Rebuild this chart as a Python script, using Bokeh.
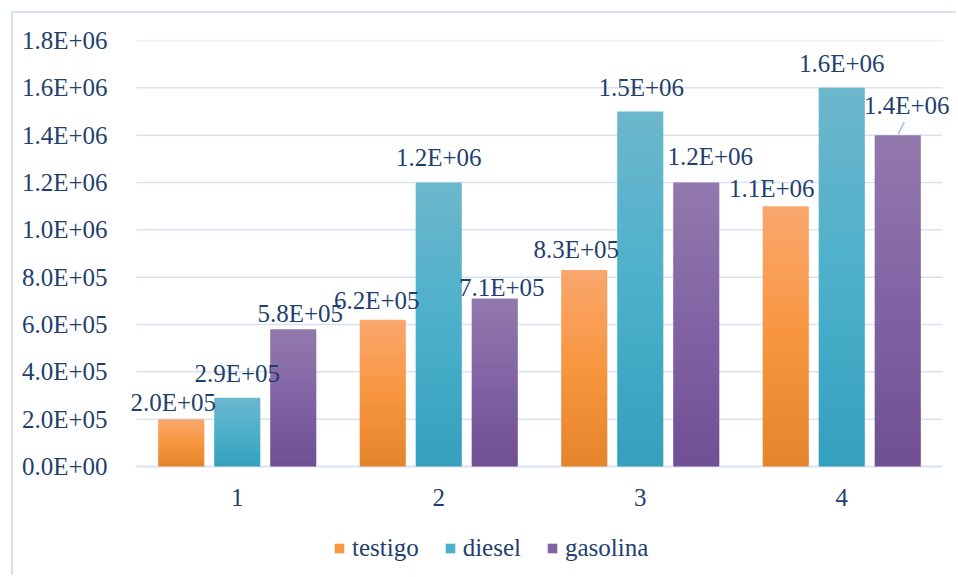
from bokeh.plotting import figure
from bokeh.models import Range1d, FixedTicker, Legend, LegendItem, ColumnDataSource
from bokeh.core.properties import value
from bokeh.embed import file_html
from bokeh.resources import INLINE

# ---- data -------------------------------------------------------------
groups = [1, 2, 3, 4]
group_labels = ["1", "2", "3", "4"]
series_names = ["testigo", "diesel", "gasolina"]
testigo = [2.0e5, 6.2e5, 8.3e5, 1.1e6]
diesel = [2.9e5, 1.2e6, 1.5e6, 1.6e6]
gasolina = [5.8e5, 7.1e5, 1.2e6, 1.4e6]
y_ticks = [0, 2e5, 4e5, 6e5, 8e5, 1.0e6, 1.2e6, 1.4e6, 1.6e6, 1.8e6]

# ---- styling ----------------------------------------------------------
FONT = "Liberation Serif"
FSIZE = "25px"
TEXT = "#1F3F6E"
GRID = "#D9E2F3"
BORDER = "#D6E0F1"
# bottom / middle / top colours of each bar gradient
gradients = [
    ("#E5842B", "#F8963F", "#F9A76E"),
    ("#34A0BD", "#4CB0CB", "#6CB7CC"),
    ("#704F93", "#8163A4", "#9279AC"),
]

# label nudges in screen px: (dx, rise above bar top to label centre)
label_nudge = [
    [(-8, 17), (-6, 19), (-8, 21), (-14, 18)],
    [(0, 24), (0, 25), (1, 24), (0, 24)],
    [(7, 16), (7, 11), (14, 26), (9, 30)],
]

# ---- page geometry (px) ----------------------------------------------
PAGE_W, PAGE_H = 958, 577
EDGE = 11            # chart border offset from page corner
BW = 2               # chart border width
OX = OY = EDGE + BW  # canvas origin on the page
W, H = PAGE_W - OX, PAGE_H - OY

frame_l, frame_r = 120, 958     # drawable frame (page px)
frame_t, frame_b = 40, 577
plot_l, plot_r = 136, 942       # category extent (page px)
base_y = 466                    # value-axis zero line (page px)
cat_label_gap = 31              # zero line to category label centre
legend_left, legend_mid = 333, 548

x_lo, x_hi = 0.5, 4.5
y_top = 1.8e6
px_x = (plot_r - plot_l) / (x_hi - x_lo)
px_y = (base_y - frame_t) / y_top
xr = Range1d(x_lo - (plot_l - frame_l) / px_x, x_hi + (frame_r - plot_r) / px_x)
yr = Range1d(-(frame_b - base_y) / px_y, y_top)

bar_step = 56 / px_x
bar_w = 46 / px_x

p = figure(width=W, height=H, output_backend="svg", toolbar_location=None,
           x_range=xr, y_range=yr, x_axis_type=None,
           min_border_left=frame_l - OX, min_border_right=PAGE_W - frame_r,
           min_border_top=frame_t - OY, min_border_bottom=PAGE_H - frame_b)
# shift the chart box in from the page corner; the shadow draws its
# thin left/top border without touching the layout
p.styles = {"position": "relative", "left": f"{OX}px", "top": f"{OY}px",
            "box-shadow": f"-{BW}px -{BW}px 0 0 {BORDER}"}
p.outline_line_color = None
p.background_fill_color = "white"
p.border_fill_color = "white"

# value axis
p.yaxis.ticker = FixedTicker(ticks=y_ticks)
p.yaxis.major_label_overrides = {t: f"{t:.1E}" for t in y_ticks}
p.yaxis.major_tick_line_color = None
p.yaxis.minor_tick_line_color = None
p.yaxis.axis_line_color = None
p.yaxis.major_label_text_font = FONT
p.yaxis.major_label_text_font_size = FSIZE
p.yaxis.major_label_text_color = TEXT
p.yaxis.major_label_standoff = 7
p.grid.grid_line_color = None

# value gridlines and baseline over the category extent
p.segment(x0=[x_lo] * len(y_ticks), x1=[x_hi] * len(y_ticks),
          y0=y_ticks, y1=y_ticks, line_color=GRID,
          line_width=[2 if t == 0 else 1.5 for t in y_ticks])

# category labels under the baseline
p.text(x=groups, y=[0] * len(groups), text=group_labels, y_offset=cat_label_gap,
       text_font=value(FONT), text_font_size=FSIZE, text_color=TEXT,
       text_align="center", text_baseline="middle")


def mix(c1, c2, t):
    a = [int(c1[i:i + 2], 16) for i in (1, 3, 5)]
    b = [int(c2[i:i + 2], 16) for i in (1, 3, 5)]
    return "#%02x%02x%02x" % tuple(round(a[k] + (b[k] - a[k]) * t) for k in range(3))


def shade(stops, f):
    lo, mid, hi = stops
    return mix(lo, mid, f / 0.5) if f < 0.5 else mix(mid, hi, (f - 0.5) / 0.5)


# gradient bars built from ~3 px bands that overlap by one pixel
BAND_PX = 3
overlap = 1 / px_y
all_series = [testigo, diesel, gasolina]
bar_renderers, swatch_index = [], []
for s, vals in enumerate(all_series):
    off = (s - 1) * bar_step
    L, R, B, T, C = [], [], [], [], []
    for k, (g, v) in enumerate(zip(groups, vals)):
        n = max(4, round(v * px_y / BAND_PX))
        if k == 0:
            swatch_index.append(n // 2)
        for j in range(n):
            L.append(g + off - bar_w / 2)
            R.append(g + off + bar_w / 2)
            B.append(v * j / n)
            T.append(min(v, v * (j + 1) / n + overlap))
            C.append(shade(gradients[s], (j + 0.5) / n))
    src = ColumnDataSource(dict(left=L, right=R, bottom=B, top=T, color=C))
    bar_renderers.append(p.quad(left="left", right="right", bottom="bottom", top="top",
                                source=src, fill_color="color", line_color=None))

# value labels
for s, vals in enumerate(all_series):
    off = (s - 1) * bar_step
    src = ColumnDataSource(dict(
        x=[g + off for g in groups],
        y=list(vals),
        txt=[f"{v:.1E}" for v in vals],
        dx=[n[0] for n in label_nudge[s]],
        dy=[-n[1] for n in label_nudge[s]],
    ))
    p.text(x="x", y="y", text="txt", x_offset="dx", y_offset="dy", source=src,
           text_font=value(FONT), text_font_size=FSIZE, text_color=TEXT,
           text_align="center", text_baseline="middle")

# leader line for the last gasolina label
lx = groups[3] + bar_step
ly = gasolina[3]
p.segment(x0=[lx + 0.5 / px_x], y0=[ly + 1 / px_y],
          x1=[lx + 6.5 / px_x], y1=[ly + 13 / px_y],
          line_color="#9DC3E6", line_width=1.5)

# legend row at the foot of the chart; swatches take a mid-height band colour
items = [LegendItem(label=name, renderers=[r], index=i)
         for name, r, i in zip(series_names, bar_renderers, swatch_index)]
legend_h = 28
legend = Legend(items=items, orientation="horizontal",
                location=(legend_left - frame_l, frame_b - legend_mid - legend_h / 2),
                border_line_color=None, background_fill_alpha=0,
                label_text_font=FONT, label_text_font_size=FSIZE,
                label_text_color=TEXT, glyph_width=12, glyph_height=12,
                label_height=legend_h, label_standoff=7, spacing=25,
                padding=0, margin=0)
p.add_layout(legend, "center")

open("out.html", "w").write(file_html(p, INLINE))
